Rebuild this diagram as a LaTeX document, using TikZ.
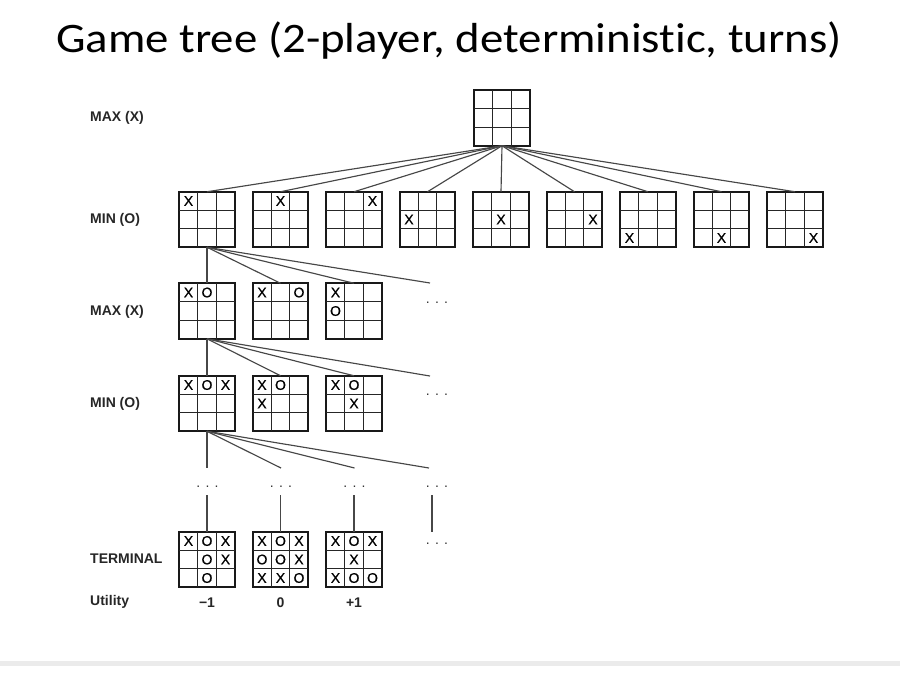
\documentclass[tikz,border=0pt]{standalone}
\usepackage{fontspec}
\setmainfont{Liberation Sans}
\newfontfamily\titlefont[Ligatures=NoCommon]{Carlito}
\newfontfamily\cellfont[FakeBold=0.6]{Liberation Sans}
\usetikzlibrary{calc}
\tikzset{
 board/.style={draw=black!90, line width=1.6pt, minimum size=55.5pt, inner sep=0pt, outer sep=0pt},
 gridline/.style={draw=black!85, line width=1.4pt},
 cell/.style={font=\cellfont\fontsize{14}{14}\selectfont, inner sep=0pt},
 edge/.style={draw=black!72, line width=1.15pt},
 lvl/.style={font=\fontsize{14}{14}\selectfont\bfseries, anchor=west, inner sep=0pt, text=black!85},
 util/.style={font=\fontsize{14}{14}\selectfont\bfseries, inner sep=0pt, text=black!85},
 more/.style={font=\fontsize{14}{14}\selectfont, inner sep=0pt, anchor=base, text=black!80},
}
\newcommand\tttboard[4]{%
  \node[board] (#1) at (#2,#3) {};
  \draw[gridline] ($(#1.north west)!1/3!(#1.north east)$) -- ($(#1.south west)!1/3!(#1.south east)$);
  \draw[gridline] ($(#1.north west)!2/3!(#1.north east)$) -- ($(#1.south west)!2/3!(#1.south east)$);
  \draw[gridline] ($(#1.north west)!1/3!(#1.south west)$) -- ($(#1.north east)!1/3!(#1.south east)$);
  \draw[gridline] ($(#1.north west)!2/3!(#1.south west)$) -- ($(#1.north east)!2/3!(#1.south east)$);
  \foreach \cx/\cy/\ct in {#4} {
    \node[cell] (#1-\cx\cy) at ($(#1.north west)+(\cx*18.5+9.25, \cy*18.5+9.25)$) {\ct};
  }
}
\begin{document}
\begin{tikzpicture}[x=1pt,y=-1pt]
\useasboundingbox (0,0) rectangle (900,678);
\fill[black!8] (0,661) rectangle (900,666);

\node[anchor=base west, font=\titlefont\fontsize{42}{42}\selectfont, inner sep=0pt] (title) at (56,52) {\scalebox{1.115}[1]{Game tree (2-player, deterministic, turns)}};

% level labels
\node[lvl] (l1) at (90,118) {MAX (X)};
\node[lvl] (l2) at (90,220) {MIN (O)};
\node[lvl] (l3) at (90,312) {MAX (X)};
\node[lvl] (l4) at (90,404) {MIN (O)};
\node[lvl] (l5) at (90,559) {TERMINAL};
\node[lvl] (l6) at (90,602) {Utility};

% root
\tttboard{root}{502}{118}{1/1/{}}

% level 2
\tttboard{b20}{207}{219.5}{0/0/X}
\tttboard{b21}{280.5}{219.5}{1/0/X}
\tttboard{b22}{354}{219.5}{2/0/X}
\tttboard{b23}{427.5}{219.5}{0/1/X}
\tttboard{b24}{501}{219.5}{1/1/X}
\tttboard{b25}{574.5}{219.5}{2/1/X}
\tttboard{b26}{648}{219.5}{0/2/X}
\tttboard{b27}{721.5}{219.5}{1/2/X}
\tttboard{b28}{795}{219.5}{2/2/X}
\foreach \i in {0,...,8} \draw[edge] (root.south) -- (b2\i.north);

% level 3
\tttboard{b30}{207}{311}{0/0/X,1/0/O}
\tttboard{b31}{280.5}{311}{0/0/X,2/0/O}
\tttboard{b32}{354}{311}{0/0/X,0/1/O}
\coordinate (m3) at (430,283);
\node[more] (d3) at (437,303) {. . .};
\draw[edge] (b20.south) -- (b30.north);
\draw[edge] (b20.south) -- (b31.north);
\draw[edge] (b20.south) -- (b32.north);
\draw[edge] (b20.south) -- (m3);

% level 4
\tttboard{b40}{207}{403.5}{0/0/X,1/0/O,2/0/X}
\tttboard{b41}{280.5}{403.5}{0/0/X,1/0/O,0/1/X}
\tttboard{b42}{354}{403.5}{0/0/X,1/0/O,1/1/X}
\coordinate (m4) at (430,376);
\node[more] (d4) at (437,395) {. . .};
\draw[edge] (b30.south) -- (b40.north);
\draw[edge] (b30.south) -- (b41.north);
\draw[edge] (b30.south) -- (b42.north);
\draw[edge] (b30.south) -- (m4);

% continuation level
\coordinate (e0) at (207,468);
\coordinate (e1) at (281,468);
\coordinate (e2) at (354.5,468);
\coordinate (e3) at (429,468);
\foreach \i in {0,...,3} \draw[edge] (b40.south) -- (e\i);
\node[more] (c0) at (207.5,487) {. . .};
\node[more] (c1) at (281,487) {. . .};
\node[more] (c2) at (354.5,487) {. . .};
\node[more] (c3) at (437,487) {. . .};

% terminal
\tttboard{t0}{207}{559.5}{0/0/X,1/0/O,2/0/X,1/1/O,2/1/X,1/2/O}
\tttboard{t1}{280.5}{559.5}{0/0/X,1/0/O,2/0/X,0/1/O,1/1/O,2/1/X,0/2/X,1/2/X,2/2/O}
\tttboard{t2}{354}{559.5}{0/0/X,1/0/O,2/0/X,1/1/X,0/2/X,1/2/O,2/2/O}
\coordinate (f0) at (207,495);
\coordinate (f1) at (280.5,495);
\coordinate (f2) at (354,495);
\coordinate (f3) at (432,495);
\coordinate (g3) at (432,532);
\draw[edge] (f0) -- (t0.north);
\draw[edge] (f1) -- (t1.north);
\draw[edge] (f2) -- (t2.north);
\draw[edge] (f3) -- (g3);
\node[more] (c4) at (437,544) {. . .};

% utilities
\node[util] (u0) at (207,603) {−1};
\node[util] (u1) at (280.5,603) {0};
\node[util] (u2) at (354,603) {+1};
\end{tikzpicture}
\end{document}
